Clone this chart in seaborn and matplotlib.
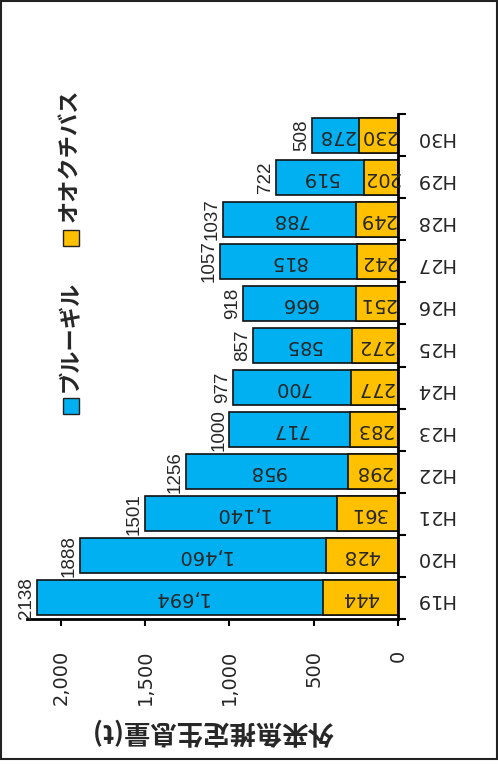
import matplotlib
matplotlib.use("Agg")
import matplotlib.pyplot as plt
from matplotlib.patches import Rectangle
import seaborn as sns
import pandas as pd

# 年度別の外来魚推定生息量 (t)
years = ["H19", "H20", "H21", "H22", "H23", "H24", "H25", "H26", "H27", "H28", "H29", "H30"]
bass = [444, 428, 361, 298, 283, 277, 272, 251, 242, 249, 202, 230]        # オオクチバス
bluegill = [1694, 1460, 1140, 958, 717, 700, 585, 666, 815, 788, 519, 278]  # ブルーギル
totals = [2138, 1888, 1501, 1256, 1000, 977, 857, 918, 1057, 1037, 722, 508]

sns.set_theme(style="white")
plt.rcParams["font.family"] = ["DejaVu Sans", "Noto Sans CJK JP"]
JP = ["Noto Sans CJK JP", "DejaVu Sans"]

BLUE = "#00B0F0"
ORANGE = "#FFC000"

df = pd.DataFrame({"year": years, "bass": bass, "bluegill": bluegill, "total": totals})
order = years[::-1]  # H30 at the top, H19 at the bottom

fig = plt.figure(figsize=(4.98, 7.65), dpi=100)
ax = fig.add_axes([27 / 498, 1 - 619 / 765, (398 - 27) / 498, (619 - 114) / 765])

bar_w = 0.83
# ブルーギル stacked on top of オオクチバス: full-length blue bar, orange segment over it
sns.barplot(data=df, x="total", y="year", order=order, orient="h", color=BLUE,
            width=bar_w, edgecolor="#111111", linewidth=1.2, saturation=1, ax=ax)
sns.barplot(data=df, x="bass", y="year", order=order, orient="h", color=ORANGE,
            width=bar_w, edgecolor="#111111", linewidth=1.2, saturation=1, ax=ax)

ax.set_xlim(2200, 0)
ax.set_ylim(len(order) - 0.5, -0.5)

num_fs = 14
pos = {y: i for i, y in enumerate(order)}
for y, b, g, t in zip(years, bass, bluegill, totals):
    p = pos[y]
    ax.text(b / 2, p, f"{b}", rotation=180, ha="center", va="center", fontsize=num_fs)
    ax.text(b + g / 2, p, f"{g:,}", rotation=180, ha="center", va="center", fontsize=num_fs)
    ax.annotate(f"{t}", xy=(t, p), xytext=(-1.5, 0), textcoords="offset points",
                rotation=90, ha="right", va="center", fontsize=13.5,
                family=["Liberation Sans", "DejaVu Sans"])

# value axis
ax.set_xticks([0, 500, 1000, 1500, 2000])
ax.set_xticklabels(["0", "500", "1,000", "1,500", "2,000"], rotation=90, fontsize=num_fs)
ax.tick_params(axis="x", direction="out", length=5, width=1.5, color="black", pad=17,
               bottom=True)
ax.set_xlabel("外来魚推定生息量(t)", rotation=180, fontsize=19, fontweight="bold",
              family=JP)
ax.xaxis.set_label_coords(0.5, -0.192)

# category axis on the right, ticks between categories
ax.yaxis.tick_right()
ax.yaxis.set_label_position("right")
ax.set_ylabel("")
ax.set_yticks(range(len(order)))
ax.set_yticklabels(order, rotation=180, fontsize=num_fs)
ax.set_yticks([i - 0.5 for i in range(len(order) + 1)], minor=True)
ax.tick_params(axis="y", which="major", length=0, pad=12, right=True, left=False)
ax.tick_params(axis="y", which="minor", length=6, width=1.5, color="black",
               direction="out", right=True, left=False)

for side in ["top", "left"]:
    ax.spines[side].set_visible(False)
for side in ["bottom", "right"]:
    ax.spines[side].set_color("black")
    ax.spines[side].set_linewidth(2)

# legend, drawn vertically on the left side
def fx(px):
    return px / 498

def fy(py):
    return 1 - py / 765

leg_items = [("ブルーギル", BLUE, 414, 392), ("オオクチバス", ORANGE, 246, 222)]
for label, col, sq_bottom, text_bottom in leg_items:
    fig.patches.append(Rectangle((fx(63), fy(sq_bottom)), 16 / 498, 16 / 765,
                                 transform=fig.transFigure, facecolor=col,
                                 edgecolor="#222222", linewidth=1.0))
    fig.text(fx(70), fy(text_bottom), label, rotation=90, ha="center", va="bottom",
             fontsize=16, fontweight="bold", family=JP)

# outer frame
fig.patches.append(Rectangle((0.5 / 498, fy(759)), 496.5 / 498, 758.5 / 765,
                             transform=fig.transFigure, fill=False,
                             edgecolor="#222222", linewidth=1.5))

fig.savefig("out.png", dpi=100)
